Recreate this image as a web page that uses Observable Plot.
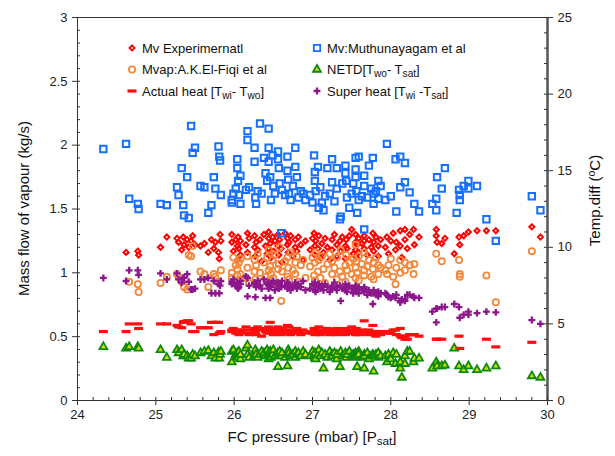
<!DOCTYPE html>
<html><head><meta charset="utf-8">
<script src="https://cdn.jsdelivr.net/npm/d3@7"></script>
<script src="https://cdn.jsdelivr.net/npm/@observablehq/plot@0.6"></script>
<style>
body{margin:0;background:#fff;}
#chart{position:relative;width:615px;height:456px;}
</style></head><body><div id="chart"></div>
<script>
// ---- DATA (pressure in mbar; Mv in kg/s; temperature differences in °C) ----
const pressure = [
 24.33,24.62,24.66,24.77,24.78,25.06,25.14,
 25.27,25.29,25.33,25.35,25.36,25.40,25.42,25.45,25.47,25.50,25.57,25.62,25.67,25.71,25.74,25.76,25.80,25.81,25.82,25.83,
 25.97,25.97,25.99,26.02,26.04,26.04,26.05,26.06,26.08,26.08, 26.15,26.17,26.17,26.19,26.26,26.26,26.27,26.28,26.30,26.33, 26.35,26.38,26.40,26.42,26.44,26.44,26.44,26.46,26.47,26.49, 26.50,26.52,26.56,26.56,26.57,26.58,26.60,26.61,26.65,26.68, 26.68,26.69,26.70,26.72,26.75,26.78,26.78,26.80,26.82,26.85, 26.88,26.91,
 26.97,27.00,27.02,27.03,27.03,27.04,27.07,27.08,27.10,27.12, 27.14,27.16,27.19,27.22,27.25,27.25,27.28,27.31,27.31,27.35, 27.36,27.38,27.42,27.42,27.43,27.44,27.47,27.50,27.52,27.55, 27.55,27.55,27.56,27.57,27.59,27.59,27.63,27.66,27.66,27.66, 27.70,27.72,27.75,27.77,27.78,27.78,27.81,27.84,27.84,27.87,
 27.93,27.95,27.97,28.00,28.03,28.06,28.07,28.12,28.12,28.14,28.18,28.18,28.21,28.24,28.29,28.30,28.36,
 28.53,28.58,28.58,28.59,28.65,28.69,28.81,28.84,28.87,28.88,28.88,28.93,28.99,28.99,29.10,29.22,29.34,29.80,29.91
];
const mvMuthunayagam = [
 1.97,2.01,1.58,1.54,1.50,1.54,1.53,
 1.67,1.61,1.82,1.53,1.45,1.75,1.43,2.15,1.94,1.98,1.68,1.67,1.47,1.53,1.75,1.66,1.99,1.91,1.88,1.61,
 1.57,1.55,1.62,1.66,1.89,1.82,1.72,1.61,1.76,1.54, 1.65,2.11,2.04,1.67,1.98,1.87,1.59,1.54,1.64,2.17, 1.62,1.90,1.78,1.72,2.13,1.98,1.87,1.75,1.57,1.92, 1.68,1.62,1.95,1.89,1.82,1.70,1.31,1.65,1.61,1.91, 1.80,1.73,1.62,1.57,1.68,1.98,1.83,1.75,1.59,1.64, 1.62,1.57,
 1.61,1.55,1.92,1.79,1.72,1.64,1.83,1.51,1.67,1.55, 1.49,1.60,1.82,1.62,1.89,1.71,1.56,1.82,1.66,1.42, 1.44,1.70,1.84,1.78,1.72,1.59,1.51,1.62,1.70,1.90, 1.81,1.75,1.64,1.47,1.91,1.57,1.60,1.76,1.68,1.34, 1.59,1.84,1.66,1.90,1.62,1.54,1.64,1.72,1.58,1.68,
 1.57,2.01,null,1.60,null,1.89,1.48,1.91,1.67,null,1.86,1.71,null,1.63,null,1.54,1.48,
 1.54,1.58,1.49,1.75,1.66,1.82,null,1.47,1.65,1.61,1.57,1.68,1.72,1.66,1.68,1.42,1.25,1.60,1.49
];
const mvExperimental = [
 null,1.16,null,1.17,1.14,1.20,1.28,
 1.27,1.24,1.18,1.28,1.22,1.26,1.20,1.25,1.29,1.22,1.21,1.23,1.16,1.26,1.19,1.24,1.16,1.11,1.30,1.25,
 1.24,1.30,1.17,1.26,1.21,1.10,1.28,1.19,1.14,1.25, 1.22,1.31,1.16,1.27,1.20,1.29,1.13,1.24,1.18,1.26, 1.09,1.30,1.21,1.15,1.27,1.19,1.32,1.23,1.12,1.28, 1.17,1.25,1.21,1.30,1.14,1.26,1.19,1.08,1.31,1.22, 1.27,1.16,1.24,1.29,1.13,1.20,1.26,1.17,1.28,1.22, 1.10,1.25,
 1.18,1.27,1.31,1.21,1.14,1.25,1.19,1.29,1.12,1.23, 1.16,1.27,1.20,1.10,1.26,1.18,1.30,1.22,1.13,1.25, 1.17,1.28,1.21,1.11,1.26,1.19,1.29,1.34,1.15,1.24, 1.18,1.30,1.12,1.22,1.27,1.16,1.23,1.29,1.19,1.25, 1.14,1.26,1.20,1.31,1.17,1.24,1.28,1.21,1.13,1.26,
 1.20,1.28,1.15,1.25,1.31,1.18,1.24,1.33,1.21,1.12,1.34,1.26,1.19,1.30,1.34,1.22,1.28,
 null,1.34,1.29,1.24,1.23,1.27,1.15,null,1.28,1.22,null,1.29,1.32,null,1.33,1.33,1.33,1.36,1.28
];
const mvapElFiqi = [
 null,null,0.93,0.91,0.85,0.92,0.97,
 0.99,0.97,0.93,null,0.89,0.87,1.14,1.13,1.21,null,1.01,0.99,0.89,null,0.99,0.97,0.93,null,null,1.02,
 1.00,0.96,1.12,1.06,0.98,1.03,0.94,1.08,0.99,1.11, 0.96,1.04,1.13,0.92,1.01,1.10,0.95,1.06,1.15,1.00, 0.93,1.08,0.97,1.12,1.02,0.94,1.18,1.05,0.99,1.10, 0.96,1.14,1.03,0.91,1.07,1.20,0.78,1.01,1.09,0.97, 1.12,1.04,0.95,1.16,1.02,1.08,0.99,1.13,0.93,1.06, 1.10,0.96,
 1.05,1.12,0.98,1.08,0.94,1.16,1.01,1.10,0.96,1.13, 1.03,0.92,1.07,1.15,0.99,1.09,1.04,0.95,1.12,1.01, 1.18,0.97,1.06,0.93,1.14,1.02,1.08,0.99,1.11,1.04, 1.22,0.96,1.09,1.00,1.13,0.94,1.07,1.02,1.16,0.98, 1.05,1.10,0.97,1.03,1.08,0.95,1.12,1.06,0.99,1.04,
 1.02,0.99,1.06,1.11,0.97,0.91,1.04,1.10,1.00,null,1.08,1.02,null,1.06,0.99,1.07,null,
 null,1.15,null,null,1.09,null,null,null,1.10,0.99,0.97,null,null,null,null,0.98,0.77,1.17,null
];
const netdTemp = [
 3.5,3.4,3.5,3.5,3.4,3.3,2.8,
 3.3,3.1,3.3,2.9,3.0,2.9,2.75,2.75,3.0,2.9,3.1,3.2,3.25,2.9,3.1,2.75,3.15,2.75,3.0,3.2,
 3.2,2.5,3.3,3.0,2.9,3.1,2.8,3.2,2.7,3.0, 3.4,3.6,3.0,2.8,3.1,2.9,3.3,3.0,2.8,3.0, 3.2,3.1,2.9,3.3,3.0,2.7,3.1,3.2,2.8,3.0, 3.3,2.9,2.2,3.1,3.0,3.2,2.9,3.1,2.8,2.25, 3.0,3.3,3.1,2.9,3.0,3.2,2.8,3.0,3.1,2.9, 3.2,3.0,
 2.9,3.2,3.0,2.8,3.1,2.7,3.0,3.3,2.9,3.1, 2.1,3.0,2.8,3.2,3.0,2.9,3.1,2.7,3.0,2.2, 3.2,2.9,3.0,3.1,2.8,3.0,3.2,2.9,3.0,3.1, 2.8,3.0,2.9,2.2,3.2,3.0,2.8,2.1,3.0,2.9, 3.1,2.7,2.9,3.0,1.9,2.9,3.0,2.8,3.1,2.9,
 2.9,2.5,3.0,2.7,3.1,2.4,3.0,2.1,2.5,1.5,2.4,2.9,3.2,3.2,2.5,2.75,2.75,
 2.1,2.5,null,2.25,2.25,2.3,3.4,null,2.25,null,null,2.0,2.25,null,2.0,2.1,2.25,1.6,1.5
];
const actualHeatTemp = [
 4.5,4.5,5.0,5.0,4.7,5.0,5.0,
 4.9,4.8,4.75,5.1,5.15,5.2,5.2,5.0,4.5,4.5,4.75,4.75,4.75,5.1,4.3,5.1,5.1,4.4,4.4,4.5,
 4.6,4.5,4.7,4.4,4.6,4.5,4.4,4.3,4.6,4.5, 4.8,4.6,4.4,4.3,4.7,4.4,4.5,4.3,4.8,4.6, 4.2,4.7,4.5,4.4,4.8,4.6,4.5,5.1,4.4,4.7, 4.3,4.6,4.5,4.8,4.4,4.6,4.3,4.7,4.5,4.9, 4.4,4.6,4.8,4.3,4.5,4.6,4.4,4.7,4.5,4.3, 4.6,4.4,
 4.5,4.4,4.7,4.3,4.6,4.5,4.4,4.8,4.3,4.6, 4.4,4.5,4.7,4.3,4.6,4.4,4.5,4.7,4.3,4.6, 4.4,4.5,4.7,4.3,4.5,4.4,4.6,4.8,4.4,4.5, 4.6,4.3,4.7,4.4,4.5,4.3,4.6,5.2,4.4,4.5, 4.3,4.6,4.4,4.9,4.5,4.3,4.2,4.4,4.5,4.3,
 4.5,4.5,4.4,4.4,4.6,4.6,4.3,4.7,4.2,4.1,4.0,4.2,4.0,4.3,4.3,4.3,4.2,
 null,4.0,null,4.0,4.0,null,null,null,4.2,3.4,null,null,null,null,null,4.0,3.5,3.8,null
];
const superHeatTemp = [
 8.0,7.8,8.5,8.5,8.2,8.3,7.9,
 8.3,7.9,7.7,8.0,8.0,8.25,7.75,7.25,7.25,7.3,7.9,7.9,8.0,7.0,7.8,7.0,7.6,7.0,7.5,7.8,
 7.75,7.6,7.9,7.5,7.4,7.7,7.3,7.4,7.6,7.8, 8.1,8.0,6.8,7.5,7.7,7.6,6.75,7.4,7.8,7.5, 7.3,7.9,6.7,7.6,7.5,7.3,7.7,6.7,7.4,7.6, 7.8,7.2,7.5,7.7,7.3,7.6,7.4,7.8,7.5,7.3, 7.7,7.5,7.6,7.2,7.4,7.7,7.5,7.3,7.6,7.4, 7.8,7.2,
 7.3,7.6,7.5,7.2,7.7,7.1,7.4,7.6,7.3,7.5, 7.2,7.6,7.4,7.1,7.5,7.3,7.7,7.2,7.4,7.5, 6.5,7.3,7.6,7.2,7.4,7.1,7.5,7.3,7.0,7.4, 7.2,7.5,7.1,7.3,7.4,7.0,7.2,7.3,7.1,7.4, 6.9,7.2,7.0,6.3,7.2,7.0,6.9,7.1,6.8,7.0,
 7.0,6.9,6.75,6.7,6.8,6.7,6.9,6.4,6.5,6.6,6.5,6.6,6.9,6.9,6.8,6.7,6.7,
 5.8,6.0,5.1,6.0,6.1,6.1,6.3,null,6.1,5.4,null,5.6,5.8,5.6,5.7,5.8,5.75,5.25,5.0
];
const xTicks = [24, 25, 26, 27, 28, 29, 30];
const leftTicks = [0, 0.5, 1, 1.5, 2, 2.5, 3];
const rightTicks = [0, 5, 10, 15, 20, 25];
const seriesNames = ["Mv Experimernatl", "Mv:Muthunayagam et al", "Mvap:A.K.El-Fiqi et al",
  "NETD[Two- Tsat]", "Actual heat [Twi- Two]", "Super heat [Twi -Tsat]"];

// ---- BUILD ----
const W = 615, H = 456, mL = 77, mR = 68, mT = 17, mB = 56;
const fw = W - mL - mR, fh = H - mT - mB;
const K = 3 / 25; // right axis (0–25 °C) shares the pixel range of the left axis (0–3 kg/s)
const tc = v => v == null ? null : v * K;
const rows = pressure.map((p, i) => ({
  p, exp: mvExperimental[i], muth: mvMuthunayagam[i], fiqi: mvapElFiqi[i],
  netd: tc(netdTemp[i]), ah: tc(actualHeatTemp[i]), sh: tc(superHeatTemp[i])
}));
const minorX = d3.range(24, 30.001, 0.2);
const minorY = d3.range(0, 3.001, 0.1);
const minorR = d3.range(0, 25.001, 1).map(t => t * K);

const dashSymbol = {draw(ctx) { ctx.moveTo(-4.5, -1.6); ctx.lineTo(4.5, -1.6); ctx.lineTo(4.5, 1.6); ctx.lineTo(-4.5, 1.6); ctx.closePath(); }};
const C = {exp:"#ff0000", muth:"#1470ff", fiqi:"#f5873a", netd:"#0a8a0a", netdFill:"#d6dc00", ah:"#ff0d0d", sh:"#8c168c"};
const S = {exp: 2.3, muth: 3.6, fiqi: 3.1, netd: 2.9, ah: 3, sh: 2.9};
const FONT = "'Liberation Sans', Arial, Helvetica, sans-serif";

const plot = Plot.plot({
  width: W, height: H, marginLeft: mL, marginRight: mR, marginTop: mT, marginBottom: mB,
  x: {domain: [24, 30]}, y: {domain: [0, 3]},
  style: {fontFamily: FONT, fontSize: "13px", color: "#222", background: "white", overflow: "visible"},
  marks: [
    Plot.dot(rows, {x: "p", y: "exp", symbol: "diamond2", r: S.exp, stroke: C.exp, strokeWidth: 2, fill: "none"}),
    Plot.dot(rows, {x: "p", y: "muth", symbol: "square", r: S.muth, stroke: C.muth, strokeWidth: 2, fill: "none"}),
    Plot.dot(rows, {x: "p", y: "fiqi", symbol: "circle", r: S.fiqi, stroke: C.fiqi, strokeWidth: 1.8, fill: "none"}),
    Plot.dot(rows, {x: "p", y: "netd", symbol: "triangle", r: S.netd, stroke: C.netd, strokeWidth: 1.8, fill: C.netdFill}),
    Plot.dot(rows, {x: "p", y: "ah", symbol: dashSymbol, r: S.ah, fill: C.ah, stroke: "none"}),
    Plot.dot(rows, {x: "p", y: "sh", symbol: "cross", r: S.sh, fill: C.sh, stroke: "none"}),
    Plot.frame({stroke: "#333"}),
    Plot.ruleX([30], {stroke: "#555", strokeWidth: 2.5}),
    Plot.tickX(minorX, {x: d => d, insetTop: fh - 3, stroke: "#333"}),
    Plot.tickY(minorY, {y: d => d, insetRight: fw - 3, stroke: "#333"}),
    Plot.tickY(minorR, {y: d => d, insetLeft: fw - 3, stroke: "#333"}),
    Plot.axisX(xTicks, {tickSize: 5, tickPadding: 4, label: null, tickFormat: d => String(d), fontSize: 13, stroke: "#333"}),
    Plot.axisY(leftTicks, {anchor: "left", tickSize: 5, tickPadding: 5, label: null, tickFormat: d => String(d), fontSize: 13, stroke: "#333"}),
    Plot.axisY(rightTicks.map(t => t * K), {anchor: "right", tickSize: 5, tickPadding: 5, label: null, tickFormat: d => String(Math.round(d / K)), fontSize: 13, stroke: "#333"})
  ]
});
document.getElementById("chart").appendChild(plot);

// ---- TITLES & LEGEND ----
const svg = d3.select(plot);
function richText(g, parts, size, anchor) {
  const t = g.append("text").attr("font-family", FONT).attr("font-size", size).attr("fill", "#111")
    .attr("text-anchor", anchor || "start");
  let shift = 0;
  parts.forEach(([s, kind]) => {
    const ts = t.append("tspan").text(s);
    if (kind === "sub") { ts.attr("font-size", size * 0.78).attr("dy", 3 - shift); shift = 3; }
    else if (kind === "sup") { ts.attr("font-size", size * 0.7).attr("dy", -5 - shift); shift = -5; }
    else if (shift !== 0) { ts.attr("dy", -shift); shift = 0; }
  });
  return t;
}
// x title
richText(svg.append("g"), [["FC pressure (mbar) [P"], ["sat", "sub"], ["]"]], 15, "middle")
  .attr("x", mL + fw / 2).attr("y", 442);
// left title
richText(svg.append("g").attr("transform", `translate(29,${mT + fh / 2}) rotate(-90)`), [["Mass flow of vapour (kg/s)"]], 15, "middle");
// right title
richText(svg.append("g").attr("transform", `translate(600,${mT + fh / 2 - 8}) rotate(-90)`), [["Temp.diff ("], ["o", "sup"], ["C)"]], 15, "middle");

// legend
const legendItems = [
  {sym: d3.symbolDiamond2, r: S.exp, stroke: C.exp, fill: "none", parts: [[seriesNames[0]]]},
  {sym: d3.symbolSquare, r: S.muth, stroke: C.muth, fill: "none", parts: [[seriesNames[1]]]},
  {sym: d3.symbolCircle, r: S.fiqi, stroke: C.fiqi, fill: "none", parts: [[seriesNames[2]]]},
  {sym: d3.symbolTriangle, r: S.netd, stroke: C.netd, fill: C.netdFill, parts: [["NETD[T"], ["wo", "sub"], ["- T"], ["sat", "sub"], ["]"]]},
  {sym: dashSymbol, r: S.ah, stroke: "none", fill: C.ah, parts: [["Actual heat [T"], ["wi", "sub"], ["- T"], ["wo", "sub"], ["]"]]},
  {sym: d3.symbolCross, r: S.sh, stroke: "none", fill: C.sh, parts: [["Super heat [T"], ["wi", "sub"], [" -T"], ["sat", "sub"], ["]"]]}
];
const lg = svg.append("g");
legendItems.forEach((it, i) => {
  const col = i % 2, row = Math.floor(i / 2);
  const sx = col === 0 ? 132 : 317, y = 48 + row * 21.5;
  lg.append("path").attr("transform", `translate(${sx},${y})`)
    .attr("d", d3.symbol(it.sym, Math.PI * it.r * it.r)())
    .attr("stroke", it.stroke).attr("stroke-width", 1.8).attr("fill", it.fill);
  richText(lg, it.parts, 13).attr("x", sx + 10).attr("y", y + 4.5);
});
</script></body></html>
